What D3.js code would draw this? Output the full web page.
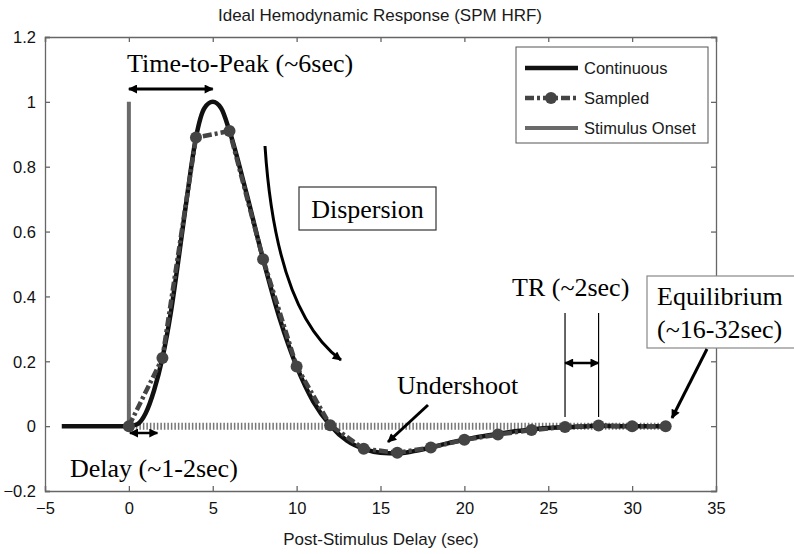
<!DOCTYPE html>
<html>
<head>
<meta charset="utf-8">
<script src="https://cdn.jsdelivr.net/npm/d3@7"></script>
<style>
  body { margin: 0; background: #fff; }
  svg { display: block; }
</style>
</head>
<body>
<svg id="chart" width="794" height="554"></svg>
<script>
// continuous HRF
const contT = [-4, -3, -2, -1, 0, 0.5, 1, 1.5, 2, 2.5, 3, 3.5, 4, 4.5, 5, 5.5, 6, 7, 8, 9, 10, 11, 12, 13, 14, 15, 16, 17, 18, 19, 20, 21, 22, 23, 24, 25, 26, 27, 28, 29, 30, 31, 32];
const contY = [0, 0, 0, 0, 0, 0.006, 0.04, 0.11, 0.21, 0.35, 0.53, 0.72, 0.89, 0.98, 1.0, 0.98, 0.91, 0.72, 0.515, 0.33, 0.184, 0.075, 0.003, -0.045, -0.07, -0.082, -0.084, -0.077, -0.066, -0.053, -0.042, -0.032, -0.024, -0.016, -0.01, -0.006, -0.003, -0.001, 0.001, 0, 0, 0, 0];

// sampled every TR = 2 sec
const sampT = [0, 2, 4, 6, 8, 10, 12, 14, 16, 18, 20, 22, 24, 26, 28, 30, 32];
const sampY = [0, 0.21, 0.89, 0.91, 0.515, 0.184, 0.003, -0.07, -0.082, -0.066, -0.042, -0.026, -0.012, -0.003, 0.002, 0, 0];

const xTicks = [-5, 0, 5, 10, 15, 20, 25, 30, 35];
const yTicks = [-0.2, 0, 0.2, 0.4, 0.6, 0.8, 1, 1.2];
const legendLabels = ["Continuous", "Sampled", "Stimulus Onset"];

const svg = d3.select("#chart");
const margin = {top: 37, right: 78, bottom: 63, left: 45};
const W = 794, H = 554;

const x = d3.scaleLinear().domain([-5, 35]).range([margin.left, W - margin.right]);
const y = d3.scaleLinear().domain([-0.2, 1.2]).range([H - margin.bottom, margin.top]);

const sans = "'Liberation Sans', Arial, Helvetica, sans-serif";
const serif = "'Liberation Serif', 'Times New Roman', serif";

// arrow heads
const defs = svg.append("defs");
defs.append("marker")
    .attr("id", "arr")
    .attr("viewBox", "0 0 10 10")
    .attr("refX", 9).attr("refY", 5)
    .attr("markerWidth", 11).attr("markerHeight", 9)
    .attr("markerUnits", "userSpaceOnUse")
    .attr("orient", "auto-start-reverse")
    .append("path").attr("d", "M0,0 L10,5 L0,10 z").attr("fill", "#000");

// frame + ticks
const axisColor = "#666";
const gx = svg.append("g").attr("transform", `translate(0,${y(-0.2)})`)
    .call(d3.axisBottom(x).tickValues(xTicks).tickSize(-5).tickPadding(11).tickFormat(d3.format("d")));
const gxTop = svg.append("g").attr("transform", `translate(0,${y(1.2)})`)
    .call(d3.axisTop(x).tickValues(xTicks).tickSize(-5).tickFormat(""));
const gy = svg.append("g").attr("transform", `translate(${x(-5)},0)`)
    .call(d3.axisLeft(y).tickValues(yTicks).tickSize(-5).tickPadding(9).tickFormat(d => d == 0 ? "0" : d3.format("")(+d.toFixed(1))));
const gyR = svg.append("g").attr("transform", `translate(${x(35)},0)`)
    .call(d3.axisRight(y).tickValues(yTicks).tickSize(-5).tickFormat(""));
[gx, gxTop, gy, gyR].forEach(g => {
    g.select(".domain").attr("stroke", axisColor).attr("stroke-width", 1.3);
    g.selectAll(".tick line").attr("stroke", axisColor).attr("stroke-width", 1.3);
    g.selectAll(".tick text").attr("fill", "#111").style("font-size", "16.5px").style("font-family", sans);
});
gy.selectAll(".tick text").attr("dy", "0.35em");

// title & x label
svg.append("text").attr("x", 380).attr("y", 21).attr("text-anchor", "middle")
    .style("font-family", sans).style("font-size", "17px").attr("fill", "#1a1a1a")
    .text("Ideal Hemodynamic Response (SPM HRF)");
svg.append("text").attr("x", 381).attr("y", 545).attr("text-anchor", "middle")
    .style("font-family", sans).style("font-size", "17px").attr("fill", "#1a1a1a")
    .text("Post-Stimulus Delay (sec)");

// stimulus onset
svg.append("line")
    .attr("x1", x(0)).attr("x2", x(0)).attr("y1", y(1)).attr("y2", y(0))
    .attr("stroke", "#6a6a6a").attr("stroke-width", 4);

// zero baseline (dotted)
svg.append("line")
    .attr("x1", x(0)).attr("x2", x(32)).attr("y1", y(0)).attr("y2", y(0))
    .attr("stroke", "#777").attr("stroke-width", 7).attr("stroke-dasharray", "1.5,2");

// continuous
const contData = contT.map((t, i) => ({t: t, v: contY[i]}));
svg.append("path").datum(contData)
    .attr("fill", "none").attr("stroke", "#111").attr("stroke-width", 4.5)
    .attr("d", d3.line().x(d => x(d.t)).y(d => y(d.v)).curve(d3.curveMonotoneX));

// sampled
const sampData = sampT.map((t, i) => ({t: t, v: sampY[i]}));
svg.append("path").datum(sampData)
    .attr("fill", "none").attr("stroke", "#444").attr("stroke-width", 4.5)
    .attr("stroke-dasharray", "9,3,3,3")
    .attr("d", d3.line().x(d => x(d.t)).y(d => y(d.v)));
svg.append("g").selectAll("circle").data(sampData).enter().append("circle")
    .attr("cx", d => x(d.t)).attr("cy", d => y(d.v)).attr("r", 6)
    .attr("fill", "#444");

// legend
const lg = svg.append("g");
lg.append("rect").attr("x", 516).attr("y", 47).attr("width", 192).attr("height", 96)
    .attr("fill", "#fff").attr("stroke", "#555").attr("stroke-width", 1);
legendLabels.forEach((lab, i) => {
    const ly = 68 + i * 30;
    const l = lg.append("line").attr("x1", 525).attr("x2", 578).attr("y1", ly).attr("y2", ly);
    if (i == 0) l.attr("stroke", "#111").attr("stroke-width", 4.5);
    if (i == 1) {
        l.attr("stroke", "#444").attr("stroke-width", 4.5).attr("stroke-dasharray", "9,3,3,3");
        lg.append("circle").attr("cx", 551).attr("cy", ly).attr("r", 6).attr("fill", "#444");
    }
    if (i == 2) l.attr("stroke", "#6a6a6a").attr("stroke-width", 4);
    lg.append("text").attr("x", 584).attr("y", ly + 6)
        .style("font-family", sans).style("font-size", "16.5px").attr("fill", "#1a1a1a").text(lab);
});

// annotation boxes first, text on top
const boxes = svg.append("g");
boxes.append("rect").attr("x", 299).attr("y", 187).attr("width", 137).attr("height", 43)
    .attr("fill", "#fff").attr("stroke", "#333").attr("stroke-width", 1.2);
boxes.append("rect").attr("x", 647).attr("y", 276).attr("width", 160).attr("height", 72)
    .attr("fill", "#fff").attr("stroke", "#888").attr("stroke-width", 1.2);

const ann = svg.append("g").style("font-family", serif).style("font-size", "26px").attr("fill", "#000");
const arrow = (x1, y1, x2, y2, both, w) => {
    const l = svg.append("line").attr("x1", x1).attr("y1", y1).attr("x2", x2).attr("y2", y2)
        .attr("stroke", "#000").attr("stroke-width", w || 3)
        .attr("marker-end", "url(#arr)");
    if (both) l.attr("marker-start", "url(#arr)");
};

ann.append("text").attr("x", 127).attr("y", 72).text("Time-to-Peak (~6sec)");
arrow(x(0), 89, x(5), 89, true);

ann.append("text").attr("x", 367.5).attr("y", 218).attr("text-anchor", "middle").text("Dispersion");
svg.append("path").attr("d", "M265,146 Q276,312 341,360")
    .attr("fill", "none").attr("stroke", "#000").attr("stroke-width", 3)
    .attr("marker-end", "url(#arr)");

ann.append("text").attr("x", 397).attr("y", 394).text("Undershoot");
arrow(428, 405, 388, 442, false);

ann.append("text").attr("x", 512).attr("y", 296).text("TR (~2sec)");
[26, 28].forEach(t => svg.append("line").attr("x1", x(t)).attr("x2", x(t)).attr("y1", 313).attr("y2", 417)
    .attr("stroke", "#000").attr("stroke-width", 1.2));
arrow(x(26), 363, x(28), 363, true, 2.5);

ann.append("text").attr("x", 657).attr("y", 305).text("Equilibrium");
ann.append("text").attr("x", 657).attr("y", 338).text("(~16-32sec)");
arrow(707, 349, 672, 418, false);

ann.append("text").attr("x", 70).attr("y", 477).text("Delay (~1-2sec)");
arrow(x(0) + 1, 433, x(1.7), 433, true, 2.5);
</script>
</body>
</html>
